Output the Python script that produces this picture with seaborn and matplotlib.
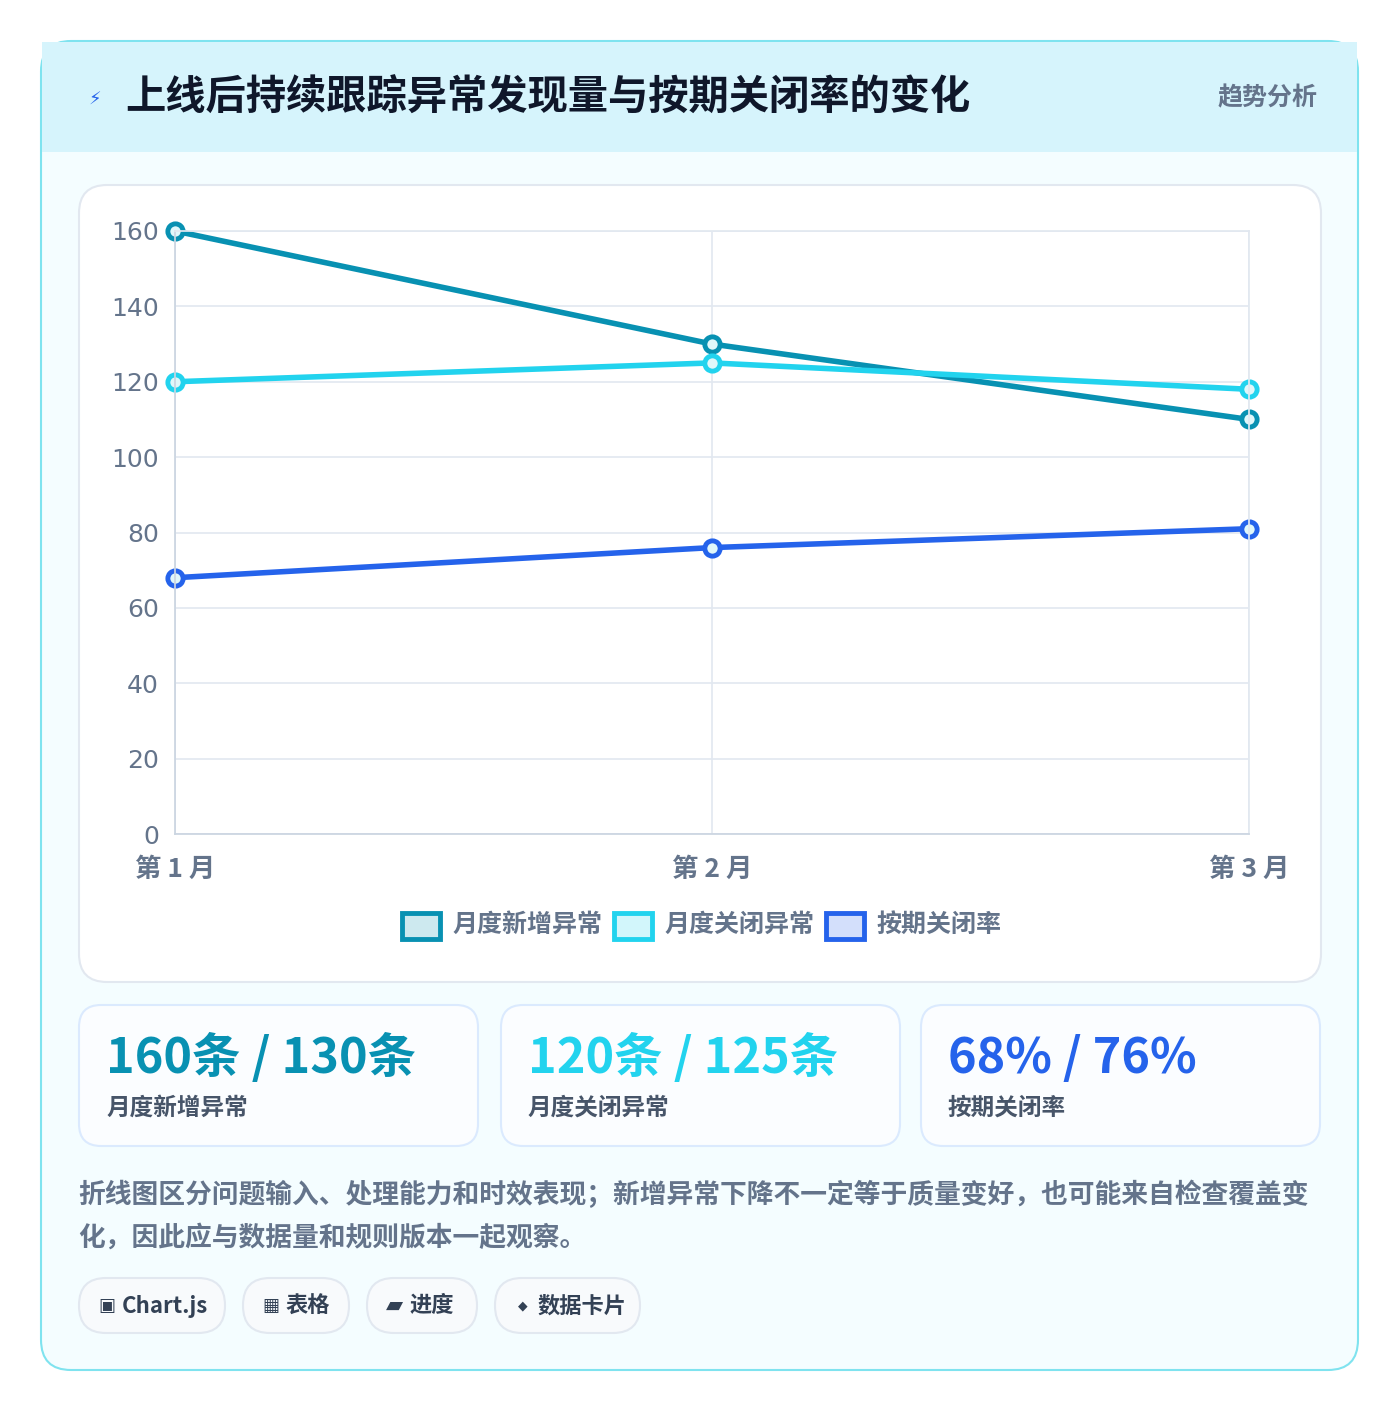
import matplotlib
matplotlib.use("Agg")
import matplotlib.pyplot as plt
import seaborn as sns
import pandas as pd
from matplotlib.patches import FancyBboxPatch, Rectangle

months = ["第 1 月", "第 2 月", "第 3 月"]
new_issues = [160, 130, 110]
closed_issues = [120, 125, 118]
ontime_rate = [68, 76, 81]
series_names = ["月度新增异常", "月度关闭异常", "按期关闭率"]
colors = ["#0891b2", "#22d3ee", "#2563eb"]
yticks = [0, 20, 40, 60, 80, 100, 120, 140, 160]

sns.set_theme(style="white")
plt.rcParams['font.family'] = ['Noto Sans CJK SC', 'DejaVu Sans']

W, H = 1400, 1412
fig = plt.figure(figsize=(14, 14.12), dpi=100)
fig.patch.set_facecolor("white")

def box(x, y, w, h, fc, ec, lw=1.5, r=20, z=0):
    p = FancyBboxPatch((x / W, 1 - (y + h) / H), w / W, h / H,
                       boxstyle=f"round,pad=0,rounding_size={r / W}",
                       transform=fig.transFigure, fc=fc, ec=ec, lw=lw, zorder=z)
    fig.add_artist(p)

def txt(x, y, s, **kw):
    fig.text(x / W, 1 - y / H, s, **kw)

# outer card
box(41, 41, 1317, 1329, "#f4fdff", "#7fe3ef", lw=1.5, r=30)
# header band
fig.add_artist(Rectangle((42 / W, 1 - 152 / H), 1315 / W, 110 / H, transform=fig.transFigure,
                         fc="#d6f4fc", ec="none", zorder=0.5))
txt(95, 100, "⚡", fontsize=13, color="#2563eb", ha="center", va="center")
txt(125, 98, "上线后持续跟踪异常发现量与按期关闭率的变化", fontsize=29, fontweight="bold",
    color="#0f172a", va="center")
txt(1318, 98, "趋势分析", fontsize=18, fontweight="bold", color="#64748b", ha="right", va="center")

# chart card
box(79, 185, 1242, 797, "white", "#e2e8f0", lw=1.5, r=28, z=0.6)

df = pd.DataFrame({"month": list(range(3)) * 3,
                   "value": new_issues + closed_issues + ontime_rate,
                   "series": [s for s in series_names for _ in range(3)]})

ax = fig.add_axes([175 / W, 1 - 834 / H, (1249 - 175) / W, (834 - 231) / H])
ax.set_zorder(2)
ax.set_facecolor("none")
sns.lineplot(data=df, x="month", y="value", hue="series", palette=colors, ax=ax,
             linewidth=4, marker="o", markersize=11, markerfacecolor="#e0f7fa",
             markeredgewidth=3.5, legend=False)
for line, c in zip(ax.lines, colors):
    line.set_markeredgecolor(c)
    line.set_clip_on(False)
ax.set_xlim(0, 2)
ax.set_ylim(0, 160)
ax.set_yticks(yticks)
ax.set_xticks([0, 1, 2])
ax.set_xticklabels(months, fontsize=19, fontweight="bold", color="#64748b")
ax.set_yticklabels([str(v) for v in yticks], fontsize=18, color="#64748b", family="DejaVu Sans")
ax.tick_params(axis="y", length=8, color="#d8dee8")
ax.tick_params(axis="x", length=8, color="#d8dee8", pad=8)
ax.grid(True, color="#e2e8f0", linewidth=1.2)
for s in ax.spines.values():
    s.set_color("#e2e8f0")
ax.spines["left"].set_color("#cbd5e1")
ax.spines["bottom"].set_color("#cbd5e1")
ax.set_xlabel("")
ax.set_ylabel("")

# legend
lx = [402, 614, 826]
for x, c, n in zip(lx, colors, series_names):
    fig.add_artist(Rectangle((x / W, 1 - 939 / H), 38 / W, 26 / H, transform=fig.transFigure,
                             fc=c + "33", ec=c, lw=3.5, zorder=1))
    txt(x + 50, 925, n, fontsize=18, fontweight="bold", color="#64748b", va="center")

# stat cards
cards = [(79, f"{new_issues[0]}条 / {new_issues[1]}条", series_names[0], colors[0]),
         (501, f"{closed_issues[0]}条 / {closed_issues[1]}条", series_names[1], colors[1]),
         (921, f"{ontime_rate[0]}% / {ontime_rate[1]}%", series_names[2], colors[2])]
for x, big, lab, c in cards:
    box(x, 1005, 399, 141, "#fbfdff", "#dbeafe", lw=1.5, r=22)
    txt(x + 27, 1058, big, fontsize=35, fontweight="heavy", color=c, va="center")
    txt(x + 27, 1108, lab, fontsize=17, fontweight="bold", color="#475569", va="center")

txt(78, 1195, "折线图区分问题输入、处理能力和时效表现；新增异常下降不一定等于质量变好，也可能来自检查覆盖变",
    fontsize=19.3, fontweight="bold", color="#64748b", va="center")
txt(78, 1238, "化，因此应与数据量和规则版本一起观察。", fontsize=19.3, fontweight="bold",
    color="#64748b", va="center")

chips = [(79, 146, "▣", 13, "Chart.js"), (243, 106, "▦", 13, "表格"),
         (367, 110, "▰", 16, "进度"), (495, 145, "◆", 9, "数据卡片")]
for x, w, icon, isz, s in chips:
    box(x, 1278, w, 55, "#f8fafc", "#e2e8f0", lw=1.5, r=27)
    txt(x + 28, 1306, icon, fontsize=isz, color="#334155", ha="center", va="center",
        family=["DejaVu Sans"])
    txt(x + 43, 1306, s, fontsize=16, fontweight="bold", color="#334155", ha="left", va="center")

fig.savefig("out.png", dpi=100, facecolor="white")
